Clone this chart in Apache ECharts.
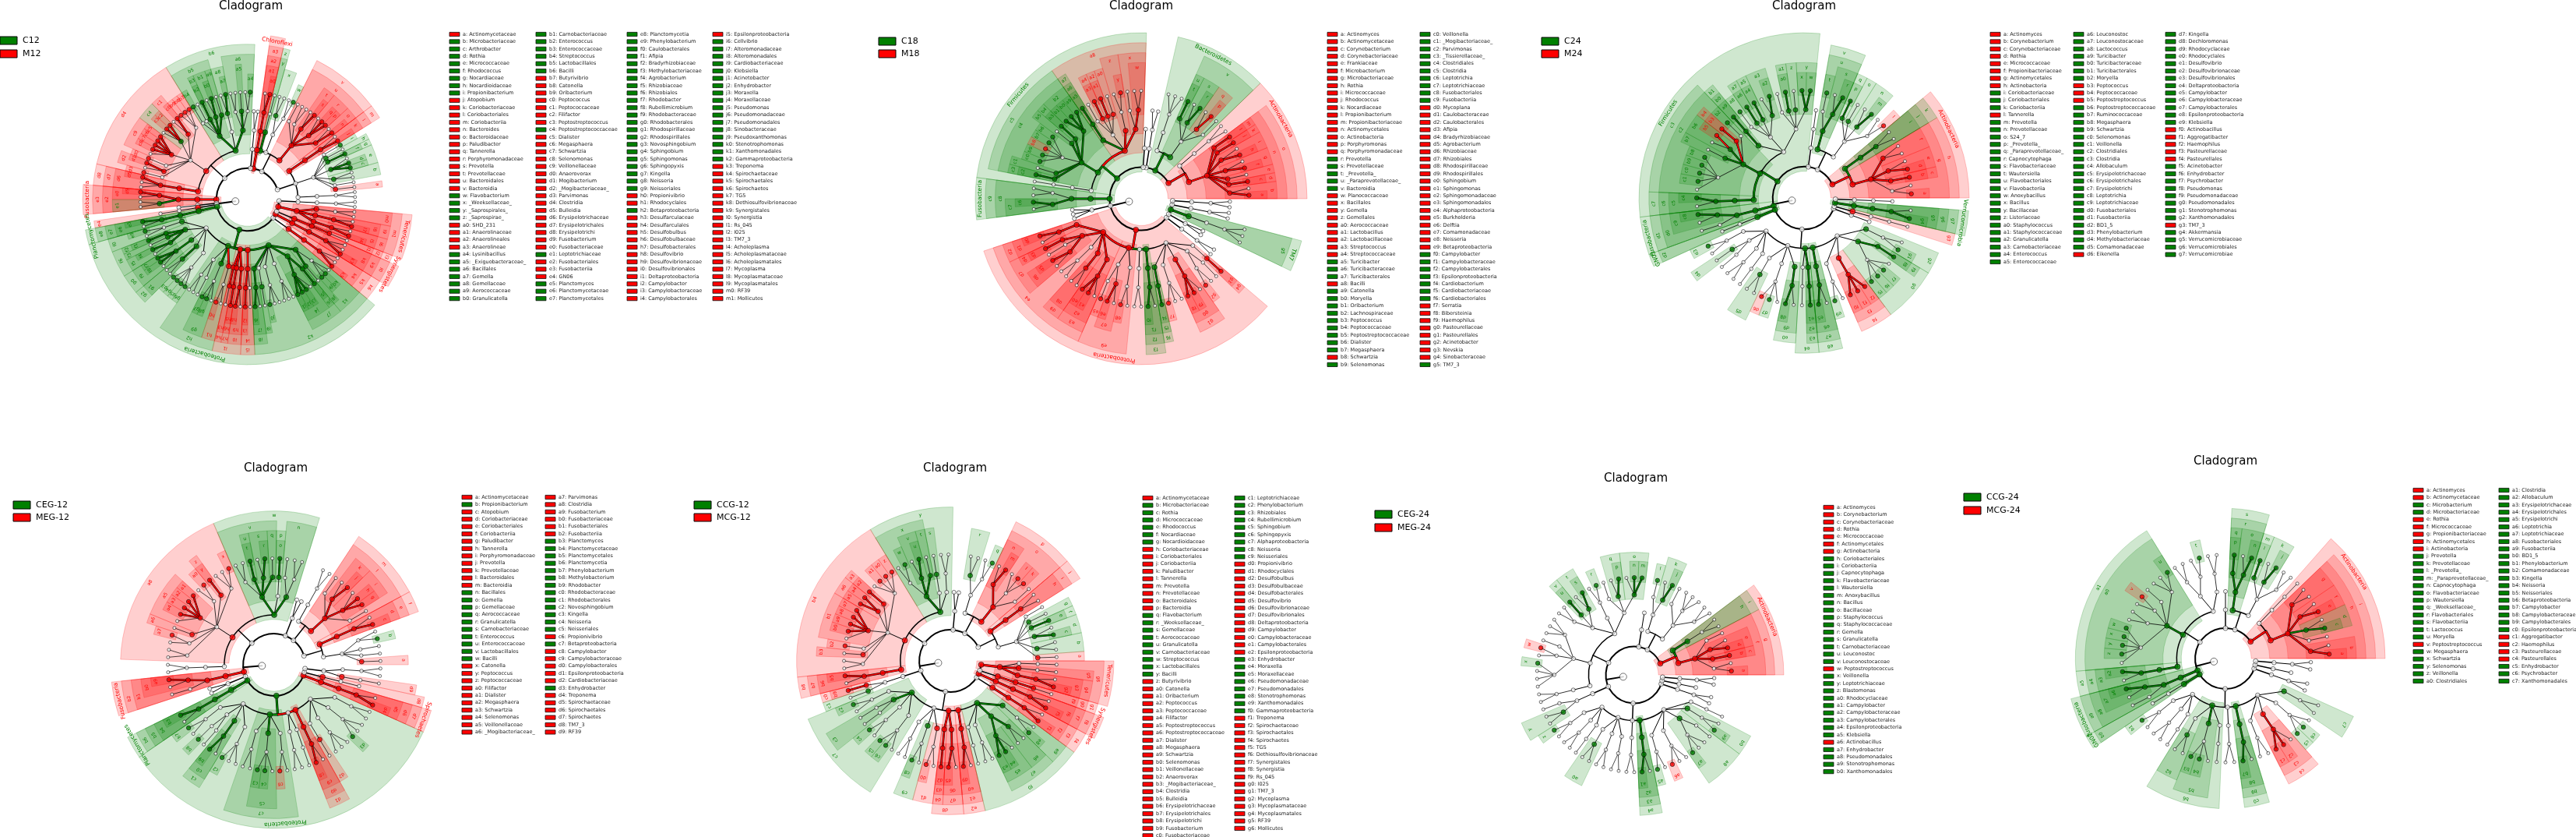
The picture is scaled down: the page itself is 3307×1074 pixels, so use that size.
<!DOCTYPE html>
<html><head><meta charset="utf-8">
<script src="https://cdn.jsdelivr.net/npm/echarts/dist/echarts.min.js"></script>
<style>html,body{margin:0;padding:0;background:#fff}#c{width:3307px;height:1074px}</style>
</head><body><div id="c"></div>
<script>
// ---------------- DATA ----------------
// Tree grammar: w = clade not significant, x = significant clade (taken in order from the list), G/R = significant phylum
const p1Legend = ['C12','M12'];
const p1Phyla = ['Chloroflexi','Fusobacteria','Planctomycetes','Proteobacteria','Synergistetes','Tenericutes'];
const p1Tree = "w( w(w(w(w2))) w( w( x(w) w(w) x(w2) x(x x w) x(x) x(w) w(x) ) ) x( x( x( x w ) ) ) )" +
 " w( x( x( x(x w) x(x x w) x(x w) w(w2) w(w) ) ) w( w( w(x w) x(w2) ) ) x( x( w(w) ) ) )" +
 " R( x( x( x( x w ) ) ) ) w( w( w( w2 ) ) )" +
 " w( x( x( w(x w) x(w) w(w2) ) w( x(x w) ) x( x(w) x(x w) x(x) w(w) w(x) ) ) x( w( w(x x x) x(x w) x(x x w) x(x x x x w) w(x) x(x w) w(x) ) ) x( x( x( x w2 ) ) ) )" +
 " R( x( x( x(x w) x(w2) ) ) ) w( w( w ) ) w( x( w( w ) ) ) G( x( x( x( x w ) ) ) )" +
 " G( w( x( w( x w ) ) x( x( x ) x( w ) x( x w ) ) x( x( x x w ) ) x( x( w2 ) ) w( w( x x x x ) ) ) x( w( w( w2 ) w( w ) ) x( w( x x w ) ) x( w( x w ) ) ) x( x( x( w ) ) x( x( x ) ) x( x( x w ) ) ) x( x( x( x ) w( w ) ) ) x( x( x( x w ) ) w( x( w ) ) w( w( x w2 ) ) w( w( w3 ) ) x( x( x x x w ) x( x ) ) x( x( w ) w( x x w ) ) ) )" +
 " w( x( x( x( x w2 ) ) ) ) R( x( x( x( x w2 ) ) ) ) w( x( x( x( w ) ) ) ) R( x( x( x( x w ) ) x( x( x w ) ) x( w( w2 ) ) ) ) w( w( w( w( w2 ) ) ) )";
const p1Names = ['Actinomycetaceae','Microbacteriaceae','Arthrobacter','Rothia','Micrococcaceae','Rhodococcus','Nocardiaceae','Nocardioidaceae','Propionibacterium','Atopobium','Coriobacteriaceae','Coriobacteriales','Coriobacteriia','Bacteroides','Bacteroidaceae','Paludibacter','Tannerella','Porphyromonadaceae','Prevotella','Prevotellaceae','Bacteroidales','Bacteroidia','Flavobacterium','_Weeksellaceae_','_Saprospirales_','_Saprospirae_','SHD_231','Anaerolinaceae','Anaerolineales','Anaerolineae','Lysinibacillus','_Exiguobacteraceae_','Bacillales','Gemella','Gemellaceae','Aerococcaceae','Granulicatella',
'Carnobacteriaceae','Enterococcus','Enterococcaceae','Streptococcus','Lactobacillales','Bacilli','Butyrivibrio','Catonella','Oribacterium','Peptococcus','Peptococcaceae','Filifactor','Peptostreptococcus','Peptostreptococcaceae','Dialister','Megasphaera','Schwartzia','Selenomonas','Veillonellaceae','Anaerovorax','Mogibacterium','_Mogibacteriaceae_','Parvimonas','Clostridia','Bulleidia','Erysipelotrichaceae','Erysipelotrichales','Erysipelotrichi','Fusobacterium','Fusobacteriaceae','Leptotrichiaceae','Fusobacteriales','Fusobacteriia','GN06','Planctomyces','Planctomycetaceae','Planctomycetales',
'Planctomycetia','Phenylobacterium','Caulobacterales','Afipia','Bradyrhizobiaceae','Methylobacteriaceae','Agrobacterium','Rhizobiaceae','Rhizobiales','Rhodobacter','Rubellimicrobium','Rhodobacteraceae','Rhodobacterales','Rhodospirillaceae','Rhodospirillales','Novosphingobium','Sphingobium','Sphingomonas','Sphingopyxis','Kingella','Neisseria','Neisseriales','Propionivibrio','Rhodocyclales','Betaproteobacteria','Desulfarculaceae','Desulfarculales','Desulfobulbus','Desulfobulbaceae','Desulfobacterales','Desulfovibrio','Desulfovibrionaceae','Desulfovibrionales','Deltaproteobacteria','Campylobacter','Campylobacteraceae','Campylobacterales',
'Epsilonproteobacteria','Cellvibrio','Alteromonadaceae','Alteromonadales','Cardiobacteriaceae','Klebsiella','Acinetobacter','Enhydrobacter','Moraxella','Moraxellaceae','Pseudomonas','Pseudomonadaceae','Pseudomonadales','Sinobacteraceae','Pseudoxanthomonas','Stenotrophomonas','Xanthomonadales','Gammaproteobacteria','Treponema','Spirochaetaceae','Spirochaetales','Spirochaetes','TG5','Dethiosulfovibrionaceae','Synergistales','Synergistia','Rs_045','I025','TM7_3','Acholeplasma','Acholeplasmataceae','Acholeplasmatales','Mycoplasma','Mycoplasmataceae','Mycoplasmatales','RF39','Mollicutes'];
const p1Groups = "r gggggggg rrrr rrrrrrrrr gggg rrrr ggggggg | gggggg rrrrrrr g rrrrr rrrrrrrrrr r g rrr ggg | gg gggggggggg gggggggggg rr g rrrrrrr rrrrr | r gggg gggggggggg ggg rrrrrrr rrrrrrrrrr rr";

const p2Legend = ['C18','M18'];
const p2Phyla = ['Actinobacteria','Bacteroidetes','Firmicutes','Fusobacteria','Proteobacteria','TM7'];
const p2Tree = "R( x( x( x(x w) x(x) x(w) x(x w) x(x w) x(x) x(x) ) ) w( w( w( w2 ) ) ) )" +
 " G( x( w( w(w) x(x w) x(x w) x(x) ) ) w( w( w( w3 ) ) ) ) w( w( w( w2 ) ) ) w( w( w ) )" +
 " G( x( x( x(w2) w(w) ) x( w( x w ) ) w( x(w) x(x) x(x) w(w) ) x( x( x ) ) ) x( x( x(x x x) x(x) x(w) w(x x x x x) x(w) x(x) ) ) w( w( w( w ) ) ) )" +
 " G( x( x( w(w2) x(x w) ) ) ) w( w( w3 ) )" +
 " R( x( x( x( x w ) ) x( x( x ) w( w ) x( x w ) ) w( w( w2 ) ) x( x( w2 ) ) x( x( x x w ) ) ) x( w( w( x ) x( x w ) ) w( w( x w ) ) ) w( w( w( w2 ) ) ) x( x( x( x w ) ) ) w( x( x( x ) ) w( w( x w2 ) ) x( x( x x w ) ) w( w( x w ) w( w ) ) w( x( x ) ) ) )" +
 " w( w( w( w2 ) ) ) w( w( w2 ) ) G( x( w( w( w3 ) ) ) ) w( w( w( w2 ) ) ) w( w( w( w2 ) ) )";
const p2Names = ['Actinomyces','Actinomycetaceae','Corynebacterium','Corynebacteriaceae','Frankiaceae','Microbacterium','Microbacteriaceae','Rothia','Micrococcaceae','Rhodococcus','Nocardiaceae','Propionibacterium','Propionibacteriaceae','Actinomycetales','Actinobacteria','Porphyromonas','Porphyromonadaceae','Prevotella','Prevotellaceae','_Prevotella_','_Paraprevotellaceae_','Bacteroidia','Planococcaceae','Bacillales','Gemella','Gemellales','Aerococcaceae','Lactobacillus','Lactobacillaceae','Streptococcus','Streptococcaceae','Turicibacter','Turicibacteraceae','Turicibacterales','Bacilli','Catonella','Moryella','Oribacterium','Lachnospiraceae','Peptococcus','Peptococcaceae','Peptostreptococcaceae','Dialister','Megasphaera','Schwartzia','Selenomonas',
'Veillonella','_Mogibacteriaceae_','Parvimonas','_Tissierellaceae_','Clostridiales','Clostridia','Leptotrichia','Leptotrichiaceae','Fusobacteriales','Fusobacteriia','Mycoplana','Caulobacteraceae','Caulobacterales','Afipia','Bradyrhizobiaceae','Agrobacterium','Rhizobiaceae','Rhizobiales','Rhodospirillaceae','Rhodospirillales','Sphingobium','Sphingomonas','Sphingomonadaceae','Sphingomonadales','Alphaproteobacteria','Burkholderia','Delftia','Comamonadaceae','Neisseria','Betaproteobacteria','Campylobacter','Campylobacteraceae','Campylobacterales','Epsilonproteobacteria','Cardiobacterium','Cardiobacteriaceae','Cardiobacteriales','Serratia','Bibersteinia','Haemophilus','Pasteurellaceae','Pasteurellales','Acinetobacter','Nevskia','Sinobacteraceae','TM7_3'];
const p2Groups = "rrrrrrrrrrrrrrr rr ggggg rrrrrrrrr ggg r ggggggggg r g | gggggggggg rrrrrrrrrrrrrrrrrrrr ggggggg rrrrrrrr g";

const p3Legend = ['C24','M24'];
const p3Phyla = ['Actinobacteria','Firmicutes','Fusobacteria','GN02','Verrucomicrobia'];
const p3Tree = "R( x( x( w(x w) x(x) x(x w) x(w2) ) ) x( x( x( w2 ) ) ) )" +
 " w( w( w( w(x w) x(x w) x(w) x(x) ) ) x( x( x(x w) w(x) ) ) ) w( w( w( w ) ) )" +
 " G( w( w( x(x x) x(w) x(x) w(w) ) w( x(x w) x(x) x(x) w(x) ) x( x( x ) ) ) x( x( w(x) x(x) x(x w) x(w) w(x x x x w) ) ) x( x( x( x w ) ) ) )" +
 " G( x( x( x(x w) w(w) ) ) ) G( x( w( w ) ) )" +
 " w( w( w( w( x w ) ) w( x( w ) w( w ) ) w( w( w2 ) ) w( w( w ) ) ) w( w( x( w2 ) ) w( w( x x w ) ) x( x( x w ) ) ) x( w( w( w ) ) x( x( x ) ) ) x( x( x( x w ) ) ) w( w( w( x w ) ) x( x( x x x ) ) x( w( x x x w ) x( x ) ) x( w( x w ) ) ) )" +
 " w( w( w ) ) w( x( w( w( w ) ) ) ) G( x( x( x( x w ) ) ) ) w( w( w( w ) ) )";
const p3Names = ['Actinomyces','Corynebacterium','Corynebacteriaceae','Rothia','Micrococcaceae','Propionibacteriaceae','Actinomycetales','Actinobacteria','Coriobacteriaceae','Coriobacteriales','Coriobacteriia','Tannerella','Prevotella','Prevotellaceae','S24_7','_Prevotella_','_Paraprevotellaceae_','Capnocytophaga','Flavobacteriaceae','Wautersiella','Flavobacteriales','Flavobacteriia','Anoxybacillus','Bacillus','Bacillaceae','Listeriaceae','Staphylococcus','Staphylococcaceae','Granulicatella','Carnobacteriaceae','Enterococcus','Enterococcaceae',
'Leuconostoc','Leuconostocaceae','Lactococcus','Turicibacter','Turicibacteraceae','Turicibacterales','Moryella','Peptococcus','Peptococcaceae','Peptostreptococcus','Peptostreptococcaceae','Ruminococcaceae','Megasphaera','Schwartzia','Selenomonas','Veillonella','Clostridiales','Clostridia','Allobaculum','Erysipelotrichaceae','Erysipelotrichales','Erysipelotrichi','Leptotrichia','Leptotrichiaceae','Fusobacteriales','Fusobacteriia','BD1_5','Phenylobacterium','Methylobacteriaceae','Comamonadaceae','Eikenella',
'Kingella','Dechloromonas','Rhodocyclaceae','Rhodocyclales','Desulfovibrio','Desulfovibrionaceae','Desulfovibrionales','Deltaproteobacteria','Campylobacter','Campylobacteraceae','Campylobacterales','Epsilonproteobacteria','Klebsiella','Actinobacillus','Aggregatibacter','Haemophilus','Pasteurellaceae','Pasteurellales','Acinetobacter','Enhydrobacter','Psychrobacter','Pseudomonas','Pseudomonadaceae','Pseudomonadales','Stenotrophomonas','Xanthomonadales','TM7_3','Akkermansia','Verrucomicrobiaceae','Verrucomicrobiales','Verrucomicrobiae'];
const p3Groups = "rrrrrrrr ggg r gggggggggg gggg gggggg | ggggggg rrr gggggggggggggggggggg r | ggggggggggggg rrrrr gggggggg r gggg";

const b1Legend = ['CEG-12','MEG-12'];
const b1Phyla = ['Fusobacteria','Planctomycetes','Proteobacteria','Spirochaetes'];
const b1Tree = "w( w( w( x(w) w(w) w(w) w(x w) ) ) x( x( x( x w ) ) ) )" +
 " w( x( x( w(w) x(x x w) x(x w) w(w) ) ) w( w( w( w2 ) ) ) ) w( w( w2 ) )" +
 " w( x( x( w(w2) w(w) ) w( x( x ) ) x( x(w) x(x w) x(x) w(w2) ) ) x( w( w(x w2) x(x) w(x w) x(x x x x w) x(w) w(x w) w(w2) ) ) w( w( w( w2 ) ) ) )" +
 " R( x( x( x( x w ) w( w ) ) ) ) w( w( w2 ) ) G( x( x( x( x w ) ) ) )" +
 " G( w( w( w( x w ) ) w( w( x ) w( w ) ) x( x( x w ) ) w( w( x w2 ) ) ) x( w( w( w2 ) ) x( w( x x w ) ) w( w( x w ) ) ) w( w( w( w2 ) ) w( w( w ) ) ) x( x( x( x w ) ) ) w( w( x( w ) ) w( w( w3 ) ) w( w( x w2 ) ) w( w( w2 ) ) ) )" +
 " R( x( x( x( x w ) ) ) ) w( x( w( w ) ) ) w( w( x( w( w ) ) w( w( w2 ) ) ) )";
const b1Names = ['Actinomycetaceae','Propionibacterium','Atopobium','Coriobacteriaceae','Coriobacteriales','Coriobacteriia','Paludibacter','Tannerella','Porphyromonadaceae','Prevotella','Prevotellaceae','Bacteroidales','Bacteroidia','Bacillales','Gemella','Gemellaceae','Aerococcaceae','Granulicatella','Carnobacteriaceae','Enterococcus','Enterococcaceae','Lactobacillales','Bacilli','Catonella','Peptococcus','Peptococcaceae','Filifactor','Dialister','Megasphaera','Schwartzia','Selenomonas','Veillonellaceae','_Mogibacteriaceae_',
'Parvimonas','Clostridia','Fusobacterium','Fusobacteriaceae','Fusobacteriales','Fusobacteriia','Planctomyces','Planctomycetaceae','Planctomycetales','Planctomycetia','Phenylobacterium','Methylobacterium','Rhodobacter','Rhodobacteraceae','Rhodobacterales','Novosphingobium','Kingella','Neisseria','Neisseriales','Propionivibrio','Betaproteobacteria','Campylobacter','Campylobacteraceae','Campylobacterales','Epsilonproteobacteria','Cardiobacteriaceae','Enhydrobacter','Treponema','Spirochaetaceae','Spirochaetales','Spirochaetes','TM7_3','RF39'];
const b1Groups = "r g rrrrrrrrrrr gggggggggg rrrrrrrrrr | rrrrrr ggggggggggggg r g rrrrr g rrrrrr";

const b2Legend = ['CCG-12','MCG-12'];
const b2Phyla = ['Synergistetes','Tenericutes'];
const b2Tree = "w( w( w( x(w) x(w2) x(x w) x(x) x(w) w(w) ) ) x( x( x( w2 ) ) ) )" +
 " w( x( x( w(w) w(x x w) x(x w) ) ) w( w( w(x w) x(w2) ) ) ) w( w( w2 ) )" +
 " w( x( w( w( w2 ) ) w( x( w ) ) x( x(w) x(x w) w(x w) ) ) x( w( w(x x x w) x(x) x(x x) x(x x x x w) w(x) x(w) w(w2) ) ) x( x( x( x w ) ) ) )" +
 " w( w( w( x( x ) x( w ) ) ) )" +
 " w( x( w( w( x w ) ) x( w( w ) w( w ) ) w( w( x w ) ) w( w( x x w ) ) ) w( w( w( w2 ) ) x( w( x w ) ) x( w( x w ) ) ) x( x( x( x ) ) x( x( x w ) ) ) x( x( x( x w ) ) ) x( w( w( w ) ) w( w( w2 ) ) x( x( x x w ) x( w2 ) ) x( w( x w ) ) ) )" +
 " w( x( x( x( x w ) ) ) ) R( x( x( x( x w ) ) ) ) w( x( x( x( w ) ) ) ) R( x( x( x( x w ) ) x( w( w ) ) w( w( w ) ) ) )";
const b2Names = ['Actinomycetaceae','Microbacteriaceae','Rothia','Micrococcaceae','Rhodococcus','Nocardiaceae','Nocardioidaceae','Coriobacteriaceae','Coriobacteriales','Coriobacteriia','Paludibacter','Tannerella','Prevotella','Prevotellaceae','Bacteroidales','Bacteroidia','Flavobacterium','_Weeksellaceae_','Gemellaceae','Aerococcaceae','Granulicatella','Carnobacteriaceae','Streptococcus','Lactobacillales','Bacilli','Butyrivibrio','Catonella','Oribacterium','Peptococcus','Peptococcaceae','Filifactor','Peptostreptococcus','Peptostreptococcaceae','Dialister','Megasphaera','Schwartzia','Selenomonas','Veillonellaceae','Anaerovorax','_Mogibacteriaceae_','Clostridia','Bulleidia','Erysipelotrichaceae','Erysipelotrichales','Erysipelotrichi','Fusobacterium','Fusobacteriaceae',
'Leptotrichiaceae','Phenylobacterium','Rhizobiales','Rubellimicrobium','Sphingobium','Sphingopyxis','Alphaproteobacteria','Neisseria','Neisseriales','Propionivibrio','Rhodocyclales','Desulfobulbus','Desulfobulbaceae','Desulfobacterales','Desulfovibrio','Desulfovibrionaceae','Desulfovibrionales','Deltaproteobacteria','Campylobacter','Campylobacteraceae','Campylobacterales','Epsilonproteobacteria','Enhydrobacter','Moraxella','Moraxellaceae','Pseudomonadaceae','Pseudomonadales','Stenotrophomonas','Xanthomonadales','Gammaproteobacteria','Treponema','Spirochaetaceae','Spirochaetales','Spirochaetes','TG5','Dethiosulfovibrionaceae','Synergistales','Synergistia','Rs_045','I025','TM7_3','Mycoplasma','Mycoplasmataceae','Mycoplasmatales','RF39','Mollicutes'];
const b2Groups = "r gggggg rrrrrrrrr ggggggggg rrrrrrrrrrrrrrrrrrrrrr | ggggggggg rrrrrrrrrrrrr gggggggg rrrrrrrrrrrrrrrr";

const b3Legend = ['CEG-24','MEG-24'];
const b3Phyla = ['Actinobacteria'];
const b3Tree = "R( x( x( w(x w) x(x) x(x w) w(w) ) ) x( x( w( w2 ) ) ) )" +
 " w( w( w( w(w2) w(w3) w(w) ) ) w( w( x(x w) w(x) ) ) ) w( w( w ) )" +
 " w( w( w( x(x x w) x(x w) w(w) ) w( w( x w ) ) w( x(x w) x(x) w(w2) ) ) w( w( w(w3) w(w) w(x w) w(x w3) ) ) w( w( w( w2 ) ) ) )" +
 " w( w( w( w(w) x(w2) ) ) )" +
 " w( w( w( w( x w ) ) w( w( w2 ) ) w( w( w ) ) ) w( w( x( w2 ) ) w( w( w2 ) ) w( w( w2 ) ) ) w( w( w( w2 ) ) ) x( x( x( x w ) ) ) w( w( w( x w ) ) w( w( x w2 ) ) x( w( x w2 ) w( w ) ) x( w( x w ) ) w( w( w ) ) ) )" +
 " w( w( w( w2 ) ) ) w( w( w ) ) w( w( w( w2 ) ) )";
const b3Names = ['Actinomyces','Corynebacterium','Corynebacteriaceae','Rothia','Micrococcaceae','Actinomycetales','Actinobacteria','Coriobacteriales','Coriobacteriia','Capnocytophaga','Flavobacteriaceae','Wautersiella','Anoxybacillus','Bacillus','Bacillaceae','Staphylococcus','Staphylococcaceae','Gemella','Granulicatella','Carnobacteriaceae','Leuconostoc','Leuconostocaceae','Peptostreptococcus','Veillonella','Leptotrichiaceae','Blastomonas','Rhodocyclaceae','Campylobacter','Campylobacteraceae','Campylobacterales','Epsilonproteobacteria','Klebsiella','Actinobacillus','Enhydrobacter','Pseudomonadales','Stenotrophomonas','Xanthomonadales'];
const b3Groups = "rrrrrrr ggggggggggggggg r ggggggggg r gggg";

const b4Legend = ['CCG-24','MCG-24'];
const b4Phyla = ['Actinobacteria','Fusobacteria','GN02'];
const b4Tree = "R( x( x( x(x w) w(w) x(x w) x(x w) x(w2) ) ) w( w( w( w ) ) ) )" +
 " w( w( w( w(w2) x(x w) x(x) ) ) x( x( x(x w) x(x) ) ) ) w( w( w ) )" +
 " w( w( w( w( w2 ) ) w( w( x w ) w( w2 ) ) ) x( x( w(x w2) w(w) w(x w) w(w2) w(x x x x w) ) ) x( x( x( x w ) ) ) )" +
 " G( x( x( x( x w ) w( w ) ) ) ) G( x( w( w ) ) )" +
 " w( w( w( w( x w ) ) w( w( w2 ) ) w( w( w ) ) ) x( w( x( w2 ) ) x( w( x x w ) ) w( w( w ) ) ) w( w( w( w2 ) ) ) x( x( x( x w ) ) ) w( w( w( w2 ) ) x( x( x x w ) ) w( w( x x w ) ) x( w( w2 ) ) ) )" +
 " w( w( w( w2 ) ) ) w( w( w ) ) w( w( w( w2 ) ) )";
const b4Names = ['Actinomyces','Actinomycetaceae','Microbacterium','Microbacteriaceae','Rothia','Micrococcaceae','Propionibacteriaceae','Actinomycetales','Actinobacteria','Prevotella','Prevotellaceae','_Prevotella_','_Paraprevotellaceae_','Capnocytophaga','Flavobacteriaceae','Wautersiella','_Weeksellaceae_','Flavobacteriales','Flavobacteriia','Lactococcus','Moryella','Peptostreptococcus','Megasphaera','Schwartzia','Selenomonas','Veillonella','Clostridiales',
'Clostridia','Allobaculum','Erysipelotrichaceae','Erysipelotrichales','Erysipelotrichi','Leptotrichia','Leptotrichiaceae','Fusobacteriales','Fusobacteriia','BD1_5','Phenylobacterium','Comamonadaceae','Kingella','Neisseria','Neisseriales','Betaproteobacteria','Campylobacter','Campylobacteraceae','Campylobacterales','Epsilonproteobacteria','Aggregatibacter','Haemophilus','Pasteurellaceae','Pasteurellales','Enhydrobacter','Psychrobacter','Xanthomonadales'];
const b4Groups = "rr gg rrrrr gggggggggggg r ggggg | gggggggggggggggggggg rrrr ggg";

// ---------------- LAYOUT (positions / sizes) ----------------
const panelData = [
  {tree:p1Tree, names:p1Names, groups:p1Groups, phyla:p1Phyla, legend:p1Legend},
  {tree:p2Tree, names:p2Names, groups:p2Groups, phyla:p2Phyla, legend:p2Legend},
  {tree:p3Tree, names:p3Names, groups:p3Groups, phyla:p3Phyla, legend:p3Legend},
  {tree:b1Tree, names:b1Names, groups:b1Groups, phyla:b1Phyla, legend:b1Legend},
  {tree:b2Tree, names:b2Names, groups:b2Groups, phyla:b2Phyla, legend:b2Legend},
  {tree:b3Tree, names:b3Names, groups:b3Groups, phyla:b3Phyla, legend:b3Legend},
  {tree:b4Tree, names:b4Names, groups:b4Groups, phyla:b4Phyla, legend:b4Legend}
];
const panelLayout = [
  {cx:318, cy:256, R:212, tx:322, ty:8, lx:0, ly:52, ldy:17, listX:[577,688,805,915], listY:44, perCol:[37,37,37,37]},
  {cx:1465, cy:255, R:213, tx:1465, ty:8, lx:1128, ly:53, ldy:16, listX:[1704,1823], listY:44, perCol:[46,46]},
  {cx:2316, cy:254, R:212, tx:2316, ty:8, lx:1979, ly:53, ldy:16, listX:[2555,2662,2780], listY:44, perCol:[32,31,31]},
  {cx:352, cy:853, R:210, tx:354, ty:601, lx:17, ly:648, ldy:16, listX:[593,700], listY:638, perCol:[33,33]},
  {cx:1220, cy:848, R:210, tx:1226, ty:601, lx:891, ly:648, ldy:16, listX:[1467,1585], listY:639, perCol:[47,46]},
  {cx:2098, cy:866, R:192, tx:2100, ty:614, lx:1765, ly:660, ldy:17, listX:[2341], listY:651, perCol:[37]},
  {cx:2857, cy:845, R:205, tx:2857, ty:592, lx:2521, ly:638, ldy:17, listX:[3098,3208], listY:629, perCol:[27,27]}
];
const FONT = 'DejaVu Sans';
const GREEN = '#008000', RED = '#ff0000';
const FILL = ['#000', GREEN, RED];

// ---------------- BUILD ----------------
const LET = 'abcdefghijklmnopqrstuvwxyz';
function code(i){ if(i<26) return LET[i]; const j=i-26; return LET[Math.floor(j/10)] + (j%10); }
function parseTree(s){
  let i=0;
  function list(){
    const out=[];
    while(i<s.length){
      const ch=s[i];
      if(ch===')') return out;
      if(ch===' '){ i++; continue; }
      i++;
      let num='';
      while(i<s.length && s[i]>='0' && s[i]<='9') num+=s[i++];
      if(s[i]==='('){ i++; const kids=list(); i++; out.push({t:ch,kids:kids}); }
      else { const n=num?+num:1; for(let k=0;k<n;k++) out.push({t:ch,kids:[]}); }
    }
    return out;
  }
  return {t:'w', kids:list()};
}
const rad = d => 0.75 + d*1.15;
const outer = d => 10 - (d-1)*0.6;
const lw = lev => [2.0,2.0,1.5,1.0,0.8,0.7,0.6][Math.min(lev,6)];

function buildPanel(pd){
  const root = parseTree(pd.tree);
  const groups = pd.groups.replace(/[^gr]/g,'');
  const leaves=[];
  (function walk(n,d){ n.d=d; if(!n.kids.length) leaves.push(n); else n.kids.forEach(k=>walk(k,d+1)); })(root,0);
  const N=leaves.length, step=360/N;
  leaves.forEach((l,i)=>{ l.a=(i+0.5)*step; });
  let li=0, pi=0;
  (function post(n){
    n.kids.forEach(post);
    if(n.kids.length){ const f=n.kids[0], l=n.kids[n.kids.length-1]; n.a=(f.a+l.a)/2; n.amin=f.amin; n.amax=l.amax; }
    else { n.amin=n.a-step/2; n.amax=n.a+step/2; }
    if(n.t==='x'){ n.col=groups[li]==='r'?2:1; n.lab=code(li); li++; }
    else if(n.t==='G'||n.t==='R'){ n.col=n.t==='G'?1:2; n.lab=pd.phyla[pi++]||''; n.phy=true; }
    else n.col=0;
  })(root);
  const sectors=[], edges=[], nodes=[], labels=[], texts=[];
  const szC=[9,7,7,6.5,6,5.5,5], szW=[9,6,5.5,5,4.5,4,3.5];
  (function pre(n){
    const d=n.d;
    if(d>=1 && n.col){
      sectors.push([rad(d)-0.28, n.amin, outer(d), n.amax, n.col]);
      labels.push([outer(d)-0.3, n.a, n.col, n.phy?1:0]);
      texts.push(n.lab);
    }
    if(n.kids.length){
      const rc = rad(d+1), w = lw(d+1);
      const f=n.kids[0], l=n.kids[n.kids.length-1];
      const colKids = (d>=1 && n.col) ? n.kids.filter(k=>k.col) : [];
      if(d<=1){
        // inner levels: radial stem + arc through the children
        if(colKids.length){ edges.push([rad(d), n.a, rc, n.a, w+1.6, 0, 0]); edges.push([rad(d), n.a, rc, n.a, w+0.6, n.col, 0]); }
        else edges.push([rad(d), n.a, rc, n.a, w, 0, 0]);
        if(l.a - f.a > 0.01) edges.push([rc, f.a, rc, l.a, w, 0, 1]);
        colKids.forEach(k=>{
          if(Math.abs(k.a-n.a)>0.01){
            edges.push([rc, Math.min(k.a,n.a), rc, Math.max(k.a,n.a), w+1.6, 0, 1]);
            edges.push([rc, Math.min(k.a,n.a), rc, Math.max(k.a,n.a), w+0.6, k.col, 1]);
          }
        });
      } else {
        // outer levels: straight fan lines from node to each child
        n.kids.forEach(k=>{
          if(n.col && k.col){ edges.push([rad(d), n.a, rc, k.a, w+1.8, 0, 2]); edges.push([rad(d), n.a, rc, k.a, w+0.8, k.col, 2]); }
          else edges.push([rad(d), n.a, rc, k.a, w, 0, 2]);
        });
      }
    }
    nodes.push({value:[rad(d), n.a], symbolSize: n.col ? szC[Math.min(d,6)] : szW[Math.min(d,6)], itemStyle:{color: n.col ? FILL[n.col] : '#fff'}});
    n.kids.forEach(pre);
  })(root);
  return {sectors, edges, nodes, labels, texts};
}

function unitK(api){
  const c=api.coord([0,0]), p=api.coord([10,0]);
  return [c, Math.hypot(p[0]-c[0], p[1]-c[1])/10];
}
const D2R = Math.PI/180;
function renderSector(params, api){
  const [c,k]=unitK(api);
  const r0=api.value(0), a0=api.value(1), r1=api.value(2), a1=api.value(3), col=api.value(4);
  return {type:'sector', shape:{cx:c[0], cy:c[1], r0:r0*k, r:r1*k, startAngle:-a1*D2R, endAngle:-a0*D2R, clockwise:true},
    style:{fill: col===2?'rgba(255,0,0,0.19)':'rgba(0,128,0,0.19)', stroke: col===2?'rgba(255,0,0,0.35)':'rgba(0,128,0,0.35)', lineWidth:0.6}};
}
function renderEdge(params, api){
  const [c,k]=unitK(api);
  const r0=api.value(0), a0=api.value(1), r1=api.value(2), a1=api.value(3), w=api.value(4), col=api.value(5), kind=api.value(6);
  const stroke = FILL[col];
  if(kind===0 || kind===2){
    const p0=api.coord([r0,a0]), p1=api.coord([r1, kind===2 ? a1 : a0]);
    return {type:'line', shape:{x1:p0[0],y1:p0[1],x2:p1[0],y2:p1[1]}, style:{stroke, lineWidth:w, lineCap:'round'}};
  }
  return {type:'arc', shape:{cx:c[0], cy:c[1], r:r0*k, startAngle:-a1*D2R, endAngle:-a0*D2R, clockwise:true}, style:{stroke, lineWidth:w, fill:null}};
}

const built = panelData.map(buildPanel);
const option = {backgroundColor:'#fff', animation:false, polar:[], angleAxis:[], radiusAxis:[], series:[], graphic:{elements:[]}};
const G = option.graphic.elements;
built.forEach((b,i)=>{
  const L = panelLayout[i], pd = panelData[i];
  option.polar.push({center:[L.cx, L.cy], radius: L.R*1.05});
  option.angleAxis.push({polarIndex:i, type:'value', min:0, max:360, startAngle:0, clockwise:false, show:false});
  option.radiusAxis.push({polarIndex:i, type:'value', min:0, max:10.5, show:false});
  option.series.push({type:'custom', coordinateSystem:'polar', polarIndex:i, silent:true, z:1, data:b.sectors, renderItem:renderSector, encode:{radius:0, angle:1}});
  option.series.push({type:'custom', coordinateSystem:'polar', polarIndex:i, silent:true, z:2, data:b.edges, renderItem:renderEdge, encode:{radius:0, angle:1}});
  option.series.push({type:'scatter', coordinateSystem:'polar', polarIndex:i, silent:true, z:3, symbol:'circle', data:b.nodes, itemStyle:{borderColor:'#000', borderWidth:0.7}});
  const texts=b.texts;
  option.series.push({type:'custom', coordinateSystem:'polar', polarIndex:i, silent:true, z:4, data:b.labels, encode:{radius:0, angle:1},
    renderItem:function(params, api){
      const r=api.value(0), a=api.value(1), col=api.value(2), phy=api.value(3);
      const p=api.coord([r,a]);
      return {type:'text', x:p[0], y:p[1], rotation:(a-90)*D2R,
        style:{text:texts[params.dataIndex], fill:FILL[col], fontSize: phy?7.5:6, fontFamily:FONT, align:'center', verticalAlign:'middle'}};
    }});
  G.push({type:'text', x:L.tx, y:L.ty, style:{text:'Cladogram', fontSize:15, fontFamily:FONT, fill:'#000', align:'center', verticalAlign:'middle'}});
  pd.legend.forEach((name,j)=>{
    const y = L.ly + j*L.ldy;
    G.push({type:'rect', shape:{x:L.lx, y:y-5, width:22, height:10}, style:{fill: j===0?GREEN:RED, stroke:'#000', lineWidth:1}});
    G.push({type:'text', x:L.lx+29, y:y, style:{text:name, fontSize:11, fontFamily:FONT, fill:'#000', verticalAlign:'middle'}});
  });
  const grp = pd.groups.replace(/[^gr]/g,'');
  let idx=0;
  L.perCol.forEach((cnt,ci)=>{
    for(let r=0;r<cnt && idx<pd.names.length;r++,idx++){
      const x=L.listX[ci], y=L.listY + r*9.42;
      G.push({type:'rect', shape:{x:x, y:y-2.6, width:13, height:5.2}, style:{fill: grp[idx]==='r'?RED:GREEN, stroke:'#111', lineWidth:0.8}});
      G.push({type:'text', x:x+17, y:y, style:{text: code(idx)+': '+pd.names[idx], fontSize:6.5, fontFamily:FONT, fill:'#222', verticalAlign:'middle'}});
    }
  });
});
const chart = echarts.init(document.getElementById('c'), null, {renderer:'canvas'});
chart.setOption(option);
</script></body></html>
